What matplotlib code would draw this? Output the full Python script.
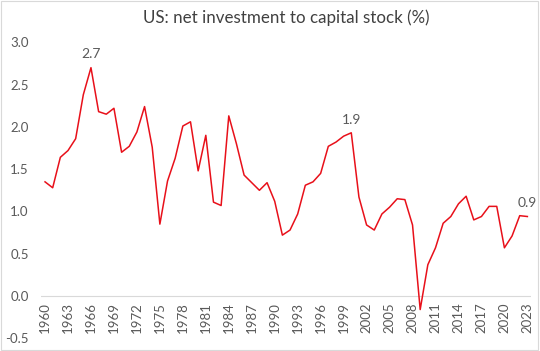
import matplotlib as mpl
mpl.use('agg')
import matplotlib.pyplot as plt
import numpy as np

plt.rc('font', family=['Lato', 'DejaVu Sans'])

years = np.arange(1960, 2024)
net_inv = [1.35, 1.28, 1.64, 1.72, 1.86, 2.38, 2.70, 2.18, 2.15, 2.22,
           1.70, 1.77, 1.94, 2.24, 1.76, 0.85, 1.36, 1.63, 2.01, 2.06,
           1.48, 1.90, 1.11, 1.07, 2.13, 1.80, 1.43, 1.34, 1.25, 1.34,
           1.12, 0.72, 0.78, 0.97, 1.31, 1.35, 1.45, 1.77, 1.82, 1.89,
           1.93, 1.17, 0.84, 0.78, 0.97, 1.05, 1.15, 1.14, 0.84, -0.16,
           0.37, 0.57, 0.86, 0.94, 1.09, 1.18, 0.90, 0.94, 1.06, 1.06,
           0.57, 0.71, 0.95, 0.94]
label_years = [1966, 2000, 2023]
yticks = [-0.5, 0.0, 0.5, 1.0, 1.5, 2.0, 2.5, 3.0]

txt = '#595959'

fig = plt.figure(figsize=(5.4, 3.51), dpi=100)
ax = fig.add_axes([41.2 / 540, 1 - 338.3 / 351, 490 / 540, 296 / 351])

ax.plot(years, net_inv, color='#e8101a', lw=1.1, zorder=3)
ax.axhline(0, color='#d9d9d9', lw=0.8, zorder=1)

for yr in label_years:
    v = net_inv[yr - years[0]]
    ax.annotate('%.1f' % v, (yr, v), xytext=(0, 9.5), textcoords='offset points',
                ha='center', va='center', fontsize=10, color=txt)

ax.set_xlim(years[0] - 0.5, years[-1] + 0.5)
ax.set_ylim(-0.5, 3.0)
ax.set_yticks(yticks)
ax.set_yticklabels(['%.1f' % t for t in yticks])
ax.set_xticks(years[::3])
ax.set_xticklabels([str(y) for y in years[::3]], rotation=90)
ax.tick_params(axis='x', length=0, pad=-26, labelsize=9.5, colors=txt)
ax.tick_params(axis='y', length=0, pad=9, labelsize=9.5, colors=txt)
for s in ax.spines.values():
    s.set_visible(False)

ax.set_title('US: net investment to capital stock (%)', fontsize=12.2, color='#404040',
             y=1.0, pad=14)

fig.patches.append(plt.Rectangle((0.002, 0.003), 0.994, 0.994, transform=fig.transFigure,
                                 fill=False, edgecolor='#d9d9d9', lw=0.8))

fig.savefig('out.png', dpi=100)
